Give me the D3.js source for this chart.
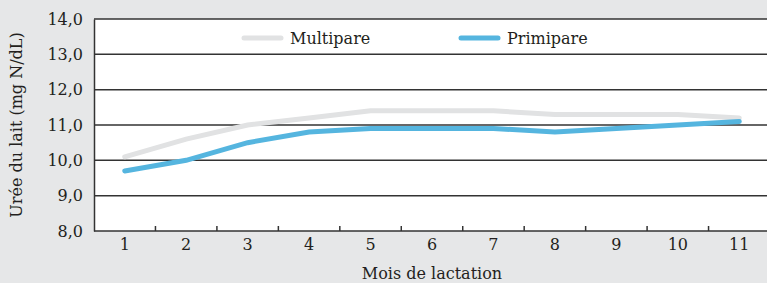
<!DOCTYPE html>
<html>
<head>
<meta charset="utf-8">
<script src="https://cdn.jsdelivr.net/npm/d3@7"></script>
<style>
  body { margin: 0; background: #e6e7e8; }
  svg { display: block; }
  text { font-family: "DejaVu Serif", serif; fill: #231f20; }
</style>
</head>
<body>
<div id="chart"></div>
<script>
var months = ["1", "2", "3", "4", "5", "6", "7", "8", "9", "10", "11"];
var multipare = [10.1, 10.6, 11.0, 11.2, 11.4, 11.4, 11.4, 11.3, 11.3, 11.3, 11.2];
var primipare = [9.7, 10.0, 10.5, 10.8, 10.9, 10.9, 10.9, 10.8, 10.9, 11.0, 11.1];
var yTicks = [8, 9, 10, 11, 12, 13, 14];

var width = 767, height = 283;
var mLeft = 94, mRight = 770, mTop = 19, mBottom = 231;

var svg = d3.select("#chart")
  .append("svg")
    .attr("width", width)
    .attr("height", height);

// plot background
svg.append("rect")
  .attr("x", mLeft).attr("y", mTop)
  .attr("width", mRight - mLeft).attr("height", mBottom - mTop)
  .attr("fill", "#fff");

var x = d3.scaleBand().domain(months).range([mLeft, mRight]);
var y = d3.scaleLinear().domain([8, 14]).range([mBottom, mTop]);

var fmt = function(d) { return d3.format(".1f")(d).replace(".", ","); };

// grid lines
svg.append("g")
  .selectAll("line")
  .data(yTicks.slice(1))
  .enter()
  .append("line")
    .attr("x1", mLeft).attr("x2", mRight)
    .attr("y1", function(d) { return y(d); })
    .attr("y2", function(d) { return y(d); })
    .attr("stroke", "#333")
    .attr("stroke-width", 1.5);

// y axis
var yAxis = svg.append("g")
  .attr("transform", "translate(" + mLeft + ",0)")
  .call(d3.axisLeft(y).tickValues(yTicks).tickFormat(fmt).tickSize(0).tickPadding(11));
yAxis.select(".domain").attr("stroke", "#333").attr("stroke-width", 1.5);
yAxis.selectAll("text").style("font-size", "16px").style("font-family", "DejaVu Serif").attr("fill", "#231f20");

// x axis, ticks between bands pointing up
var xAxis = svg.append("g")
  .attr("transform", "translate(0," + mBottom + ")")
  .call(d3.axisBottom(x).tickSize(0).tickPadding(8));
xAxis.select(".domain").remove();
xAxis.selectAll("text").style("font-size", "16px").style("font-family", "DejaVu Serif").attr("fill", "#231f20");
svg.append("line")
  .attr("x1", mLeft).attr("x2", mRight)
  .attr("y1", mBottom).attr("y2", mBottom)
  .attr("stroke", "#333").attr("stroke-width", 1.5);
svg.append("g")
  .selectAll("line")
  .data(months.slice(1))
  .enter()
  .append("line")
    .attr("x1", function(d) { return x(d); })
    .attr("x2", function(d) { return x(d); })
    .attr("y1", mBottom).attr("y2", mBottom - 5)
    .attr("stroke", "#333").attr("stroke-width", 1.5);

// lines
var line = d3.line()
  .x(function(d, i) { return x(months[i]) + x.bandwidth() / 2; })
  .y(function(d) { return y(d); });

svg.append("path")
  .datum(multipare)
  .attr("d", line)
  .attr("fill", "none")
  .attr("stroke", "#e1e2e3")
  .attr("stroke-width", 5)
  .attr("stroke-linecap", "round");

svg.append("path")
  .datum(primipare)
  .attr("d", line)
  .attr("fill", "none")
  .attr("stroke", "#55b5df")
  .attr("stroke-width", 5)
  .attr("stroke-linecap", "round");

// legend
var legend = [
  { name: "Multipare", color: "#e1e2e3", x: 244 },
  { name: "Primipare", color: "#55b5df", x: 461 }
];
var lg = svg.append("g").selectAll("g").data(legend).enter().append("g");
lg.append("line")
  .attr("x1", function(d) { return d.x; })
  .attr("x2", function(d) { return d.x + 37; })
  .attr("y1", 38).attr("y2", 38)
  .attr("stroke", function(d) { return d.color; })
  .attr("stroke-width", 5)
  .attr("stroke-linecap", "round");
lg.append("text")
  .attr("x", function(d) { return d.x + 46; })
  .attr("y", 44)
  .style("font-size", "16px")
  .text(function(d) { return d.name; });

// axis titles
svg.append("text")
  .attr("x", (mLeft + mRight) / 2)
  .attr("y", 279)
  .attr("text-anchor", "middle")
  .style("font-size", "16px")
  .text("Mois de lactation");

svg.append("text")
  .attr("transform", "translate(22," + ((mTop + mBottom) / 2) + ")rotate(-90)")
  .attr("text-anchor", "middle")
  .style("font-size", "16px")
  .text("Urée du lait (mg N/dL)");
</script>
</body>
</html>
